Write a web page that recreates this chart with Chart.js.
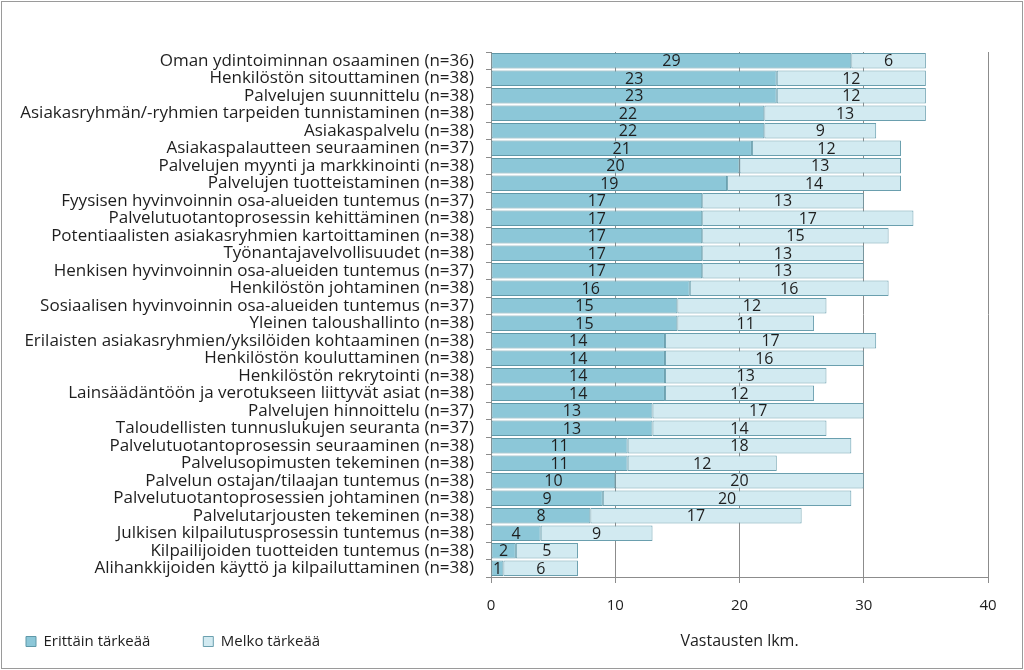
<!DOCTYPE html>
<html>
<head>
<meta charset="utf-8">
<script src="https://cdn.jsdelivr.net/npm/chart.js@4/dist/chart.umd.min.js"></script>
<style>
  body { margin: 0; background: #fff; }
  #frame {
    position: absolute; left: 1px; top: 1px;
    width: 1020px; height: 666px;
    border: 1px solid #9a9a9a;
  }
</style>
</head>
<body>
<div id="frame"><canvas id="chart" width="1020" height="666"></canvas></div>
<script>
// Data //
var categories = [
  "Oman ydintoiminnan osaaminen (n=36)",
  "Henkilöstön sitouttaminen (n=38)",
  "Palvelujen suunnittelu (n=38)",
  "Asiakasryhmän/-ryhmien tarpeiden tunnistaminen (n=38)",
  "Asiakaspalvelu (n=38)",
  "Asiakaspalautteen seuraaminen (n=37)",
  "Palvelujen myynti ja markkinointi (n=38)",
  "Palvelujen tuotteistaminen (n=38)",
  "Fyysisen hyvinvoinnin osa-alueiden tuntemus (n=37)",
  "Palvelutuotantoprosessin kehittäminen (n=38)",
  "Potentiaalisten asiakasryhmien kartoittaminen (n=38)",
  "Työnantajavelvollisuudet (n=38)",
  "Henkisen hyvinvoinnin osa-alueiden tuntemus (n=37)",
  "Henkilöstön johtaminen (n=38)",
  "Sosiaalisen hyvinvoinnin osa-alueiden tuntemus (n=37)",
  "Yleinen taloushallinto (n=38)",
  "Erilaisten asiakasryhmien/yksilöiden kohtaaminen (n=38)",
  "Henkilöstön kouluttaminen (n=38)",
  "Henkilöstön rekrytointi (n=38)",
  "Lainsäädäntöön ja verotukseen liittyvät asiat (n=38)",
  "Palvelujen hinnoittelu (n=37)",
  "Taloudellisten tunnuslukujen seuranta (n=37)",
  "Palvelutuotantoprosessin seuraaminen (n=38)",
  "Palvelusopimusten tekeminen (n=38)",
  "Palvelun ostajan/tilaajan tuntemus (n=38)",
  "Palvelutuotantoprosessien johtaminen (n=38)",
  "Palvelutarjousten tekeminen (n=38)",
  "Julkisen kilpailutusprosessin tuntemus (n=38)",
  "Kilpailijoiden tuotteiden tuntemus (n=38)",
  "Alihankkijoiden käyttö ja kilpailuttaminen (n=38)"
];
var erittainTarkeaa = [29, 23, 23, 22, 22, 21, 20, 19, 17, 17, 17, 17, 17, 16, 15, 15, 14, 14, 14, 14, 13, 13, 11, 11, 10, 9, 8, 4, 2, 1];
var melkoTarkeaa = [6, 12, 12, 13, 9, 12, 13, 14, 13, 17, 15, 13, 13, 16, 12, 11, 17, 16, 13, 12, 17, 14, 18, 12, 20, 20, 17, 9, 5, 6];
var seriesNames = ["Erittäin tärkeää", "Melko tärkeää"];
var xTicks = [0, 10, 20, 30, 40];
var axisTitle = "Vastausten lkm.";

var FONT = "'Open Sans', sans-serif";
var TEXT = "#1e1e1e";
var GRID = "#8c8c8c";

// value labels in the middle of each segment
var valueLabels = {
  id: "valueLabels",
  afterDatasetsDraw: function(chart) {
    var ctx = chart.ctx;
    ctx.save();
    ctx.font = "16px " + FONT;
    ctx.fillStyle = TEXT;
    ctx.textAlign = "center";
    ctx.textBaseline = "middle";
    chart.data.datasets.forEach(function(ds, i) {
      chart.getDatasetMeta(i).data.forEach(function(bar, j) {
        ctx.fillText(ds.data[j], (bar.x + bar.base) / 2, bar.y + 1);
      });
    });
    ctx.restore();
  }
};

// axis title sits on the same line as the legend
var bottomTitle = {
  id: "bottomTitle",
  afterDraw: function(chart) {
    var ctx = chart.ctx, x = chart.scales.x, hb = chart.legend.legendHitBoxes[0];
    ctx.save();
    ctx.font = "16px " + FONT;
    ctx.fillStyle = TEXT;
    ctx.textAlign = "center";
    ctx.textBaseline = "middle";
    ctx.fillText(axisTitle, (x.left + x.right) / 2, hb.top + hb.height / 2);
    ctx.restore();
  }
};

var ctx = document.getElementById("chart").getContext("2d");
var chart = new Chart(ctx, {
  type: "bar",
  data: {
    labels: categories,
    datasets: [{
      label: seriesNames[0],
      data: erittainTarkeaa,
      backgroundColor: "#8cc7d8",
      borderColor: "#5f98a8",
      borderWidth: 1,
      borderSkipped: false,
      categoryPercentage: 1,
      barPercentage: 0.88
    }, {
      label: seriesNames[1],
      data: melkoTarkeaa,
      backgroundColor: "#d2eaf1",
      borderColor: "#6a9fae",
      borderWidth: 1,
      borderSkipped: false,
      categoryPercentage: 1,
      barPercentage: 0.88
    }]
  },
  options: {
    indexAxis: "y",
    responsive: false,
    animation: false,
    devicePixelRatio: 1,
    layout: { padding: { top: 50, right: 34, left: 14, bottom: 9 } },
    scales: {
      x: {
        stacked: true,
        min: 0,
        max: 40,
        afterBuildTicks: function(s) { s.ticks = xTicks.map(function(v) { return { value: v }; }); },
        afterFit: function(s) { s.height = 47; },
        grid: { color: GRID, tickLength: 6, lineWidth: 1 },
        border: { color: GRID },
        ticks: { font: { size: 15, family: FONT }, color: TEXT, padding: 14 }
      },
      y: {
        stacked: true,
        afterFit: function(s) { s.width = 475; },
        grid: { drawOnChartArea: false, color: GRID, tickLength: 5, offset: true },
        border: { color: GRID },
        ticks: { font: { size: 17, family: FONT }, color: TEXT, padding: 12, autoSkip: false }
      }
    },
    plugins: {
      legend: {
        position: "bottom",
        align: "start",
        labels: {
          boxWidth: 10,
          boxHeight: 10,
          padding: 10,
          color: TEXT,
          font: { size: 15, family: FONT },
          generateLabels: function(c) {
            var items = Chart.defaults.plugins.legend.labels.generateLabels(c);
            items[0].text = items[0].text + "           ";
            return items;
          }
        }
      },
      tooltip: { enabled: false }
    }
  },
  plugins: [valueLabels, bottomTitle]
});
</script>
</body>
</html>
